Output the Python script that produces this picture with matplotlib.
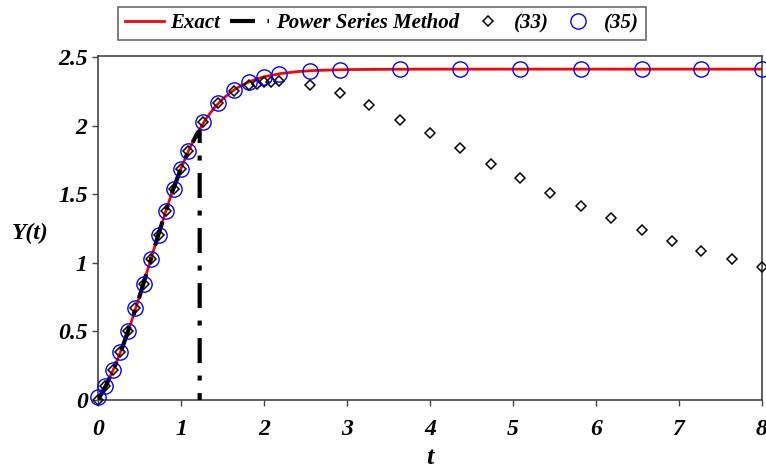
import matplotlib
matplotlib.use("Agg")
import matplotlib.pyplot as plt

# Exact solution
exact_t = [0, 0.1, 0.2, 0.3, 0.4, 0.5, 0.6, 0.7, 0.8, 0.9, 1.0, 1.1, 1.2, 1.3, 1.4,
           1.5, 1.6, 1.7, 1.8, 1.9, 2.0, 2.2, 2.4, 2.6, 3.0, 3.5, 4.0, 5.0, 6.0, 7.0, 8.0]
exact_y = [0, 0.110, 0.242, 0.395, 0.568, 0.756, 0.954, 1.153, 1.346, 1.529, 1.689,
           1.831, 1.951, 2.051, 2.131, 2.195, 2.246, 2.286, 2.316, 2.340, 2.358, 2.382,
           2.396, 2.404, 2.411, 2.413, 2.414, 2.414, 2.414, 2.414, 2.414]

# Power series method (follows curve, then blows up near t = 1.23)
ps_t = [0, 0.1, 0.2, 0.3, 0.4, 0.5, 0.6, 0.7, 0.8, 0.9, 1.0, 1.1, 1.2, 1.225, 1.225]
ps_y = [0, 0.110, 0.242, 0.395, 0.568, 0.756, 0.954, 1.153, 1.346, 1.529, 1.689,
        1.831, 1.951, 1.96, -0.3]

# Series (33) - diamonds
s33_t = [0, 0.09, 0.18, 0.27, 0.36, 0.45, 0.55, 0.64, 0.73, 0.82, 0.91, 1.0, 1.09,
         1.27, 1.45, 1.64, 1.82, 1.91, 2.0, 2.09, 2.18,
         2.55, 2.91, 3.27, 3.64, 4.0, 4.36, 4.73, 5.09, 5.45, 5.82, 6.18, 6.55,
         6.91, 7.27, 7.64, 8.0]
s33_y = [0, 0.099, 0.217, 0.351, 0.503, 0.669, 0.845, 1.026, 1.207, 1.380, 1.543,
         1.689, 1.819, 2.026, 2.168, 2.255, 2.299, 2.305, 2.318, 2.320, 2.324,
         2.301, 2.238, 2.151, 2.045, 1.945, 1.836, 1.725, 1.619, 1.513, 1.414,
         1.326, 1.239, 1.158, 1.087, 1.028, 0.973]

# Series (35) - circles
s35_t = [0, 0.09, 0.18, 0.27, 0.36, 0.45, 0.55, 0.64, 0.73, 0.82, 0.91, 1.0, 1.09,
         1.27, 1.45, 1.64, 1.82, 2.0, 2.18, 2.55, 2.91, 3.64, 4.36, 5.09, 5.82,
         6.55, 7.27, 8.0]
s35_y = [0.02, 0.099, 0.217, 0.351, 0.503, 0.669, 0.845, 1.026, 1.207, 1.380, 1.543,
         1.689, 1.819, 2.026, 2.168, 2.262, 2.321, 2.358, 2.380, 2.402, 2.410,
         2.413, 2.414, 2.414, 2.414, 2.414, 2.414, 2.414]

xticks = [0, 1, 2, 3, 4, 5, 6, 7, 8]
yticks = [0, 0.5, 1, 1.5, 2, 2.5]
ytick_labels = ["0", "0.5", "1", "1.5", "2", "2.5"]

plt.rcParams['font.family'] = ['Liberation Serif', 'DejaVu Serif']
FONT = dict(fontweight='bold', fontstyle='italic')

fig = plt.figure(figsize=(7.66, 4.67), dpi=100)
ax = fig.add_axes([98/766, 1 - 400/467, (762-98)/766, (400-56)/467])

ax.plot(exact_t, exact_y, color='#ff0000', lw=2.0, label='Exact', zorder=2)
ax.plot(ps_t, ps_y, color='black', lw=3.0, dashes=(6, 3, 1.2, 3),
        label='Power Series Method', zorder=3)
ax.plot(s33_t, s33_y, linestyle='none', marker='D', markersize=5.2,
        markerfacecolor='none', markeredgecolor='black', markeredgewidth=1.1,
        label='(33)', zorder=4, clip_on=False)
ax.plot(s35_t, s35_y, linestyle='none', marker='o', markersize=11,
        markerfacecolor='none', markeredgecolor='#0000ff', markeredgewidth=1.0,
        label='(35)', zorder=5, clip_on=False)

ax.set_xlim(0, 8)
ax.set_ylim(0, 2.51)
ax.set_xticks(xticks)
ax.set_xticklabels([str(v) for v in xticks], fontsize=17, **FONT)
ax.set_yticks(yticks)
ax.set_yticklabels(ytick_labels, fontsize=17, **FONT)
ax.tick_params(direction='out', length=4.5, width=1, color='#444444')
ax.tick_params(axis='x', pad=9)
ax.tick_params(axis='y', pad=3)
for s in ax.spines.values():
    s.set_color('#444444')
    s.set_linewidth(1.2)

fig.text(430/766, 1 - 457/467, 't', fontsize=19, ha='center', va='center', **FONT)
fig.text(30/766, 1 - 233/467, 'Y(t)', fontsize=17, ha='center', va='center', **FONT)

leg = fig.legend(loc='center', bbox_to_anchor=(382/766, 1 - 23.5/467), ncol=4,
                 prop=dict(family='Liberation Serif', weight='bold', style='italic', size=15),
                 handlelength=1.9, handletextpad=0.3, columnspacing=0.45,
                 frameon=True, fancybox=False, borderpad=0.3, borderaxespad=0)
leg.get_frame().set_edgecolor('#444444')
leg.get_frame().set_linewidth(1.2)

fig.savefig('out.png', dpi=100)
